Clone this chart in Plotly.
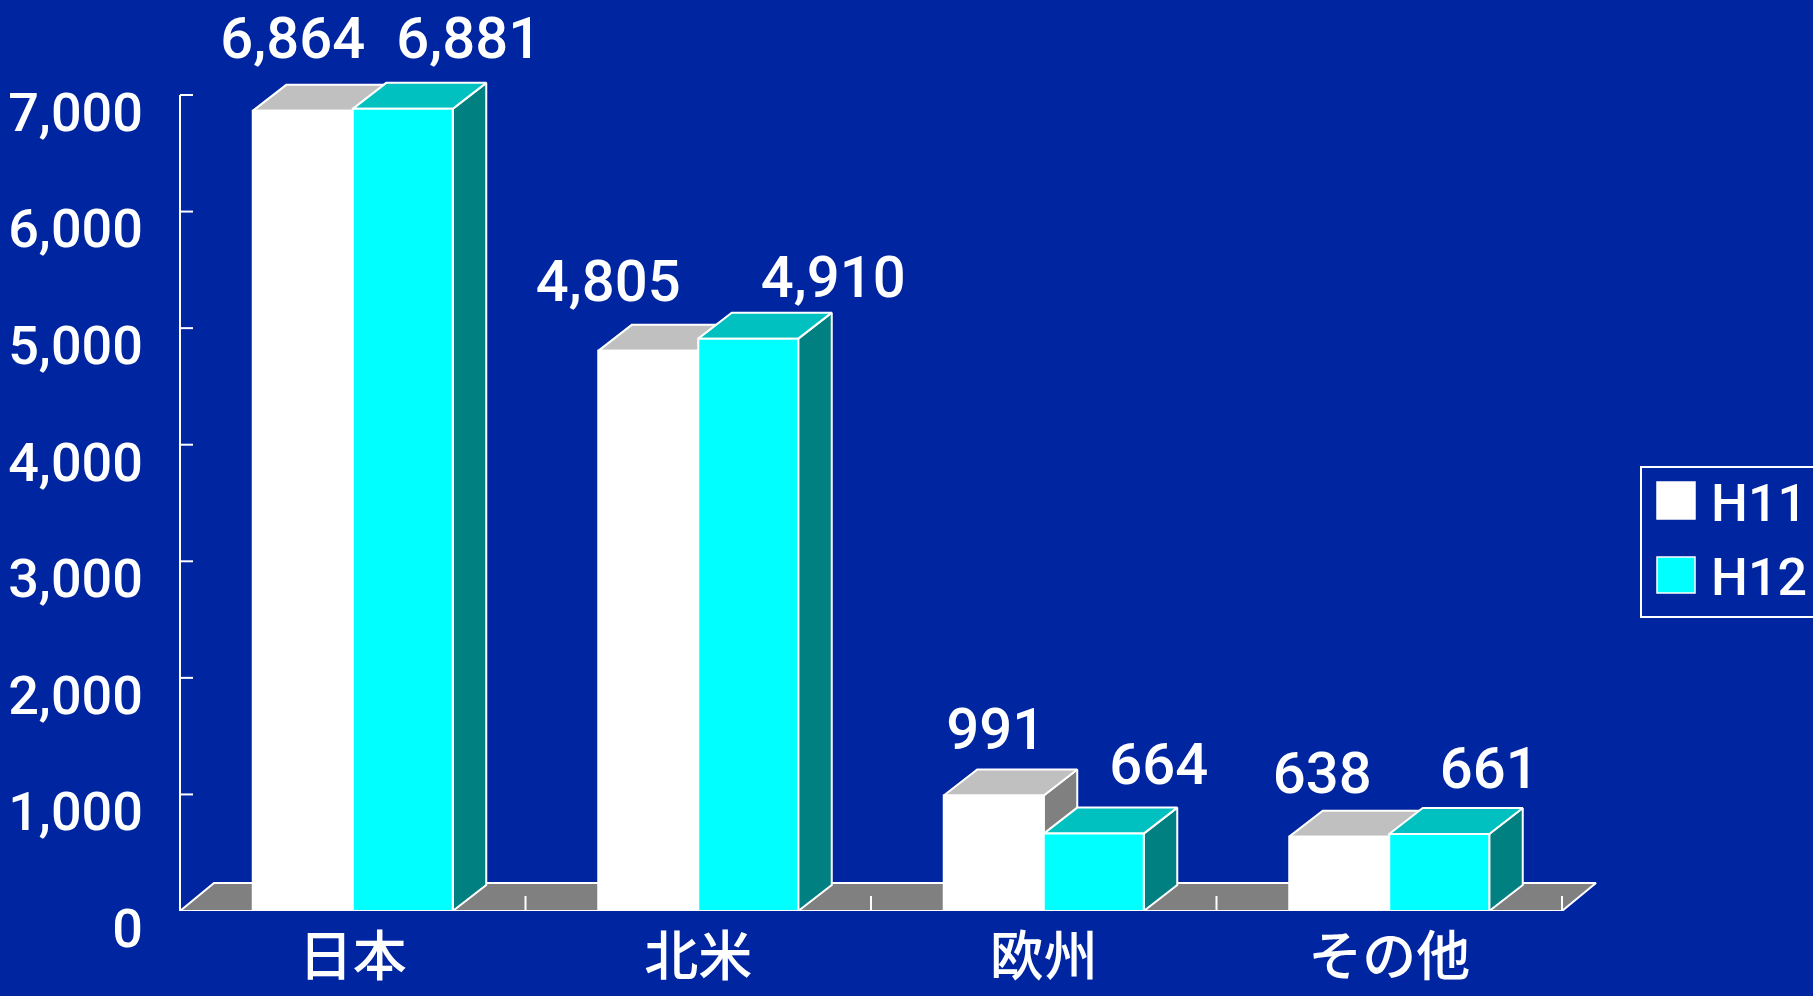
import plotly.graph_objects as go

# ---------------- data ----------------
categories = ["日本", "北米", "欧州", "その他"]
series_names = ["H11", "H12"]
h11_values = [6864, 4805, 991, 638]
h12_values = [6881, 4910, 664, 661]
y_tick_values = [0, 1000, 2000, 3000, 4000, 5000, 6000, 7000]

# ---------------- style / layout ----------------
W, H = 1813, 996
ML, MR, MT, MB = 170, 0, 0, 85
PW, PH = W - ML - MR, H - MT - MB
UX = 345.5            # px per category unit
UY = 816.0 / 7000.0   # px per value unit
AXIS_PX = 180         # pixel x of value axis

BG = "#0025A0"
WHITE = "#FFFFFF"
FACE = {
    "H11": {"front": "#FFFFFF", "top": "#C0C0C0", "side": "#808080"},
    "H12": {"front": "#00FFFF", "top": "#00C0C0", "side": "#008080"},
}
FLOOR = "#808080"
NUM_FONT = "Roboto, Liberation Sans, Arial, sans-serif"
CJK_FONT = "Noto Sans CJK JP, sans-serif"

BAR_W = 100 / UX
DX, DY = 33.5 / UX, 26 / UY          # bar depth
FDX, FDY = 34 / UX, 28 / UY          # floor depth
X_LEFT = -0.5
X_RIGHT = len(categories) - 0.5

# label offsets (px) relative to front-face centre / front-top
lab_dx = {"H11": [-10, -40, 2, -17], "H12": [66, 85, 65, 50]}
lab_dy = {"H11": [67, 64, 61, 58], "H12": [65, 56, 64, 60]}

x0 = X_LEFT - (AXIS_PX - ML) / UX
xrange = [x0, x0 + PW / UX]
yrange = [0, PH / UY]

fig = go.Figure()


def poly(xs, ys, fill, lw=2):
    fig.add_trace(go.Scatter(
        x=xs + [xs[0]], y=ys + [ys[0]], mode="lines", fill="toself",
        fillcolor=fill, line=dict(color=WHITE, width=lw),
        hoverinfo="skip", showlegend=False))


# floor
poly([X_LEFT, X_RIGHT, X_RIGHT + FDX, X_LEFT + FDX], [0, 0, FDY, FDY], FLOOR)

# floor ticks at category boundaries
tx, ty = [], []
for k in range(1, len(categories) + 1):
    b = X_LEFT + k
    tx += [b, b, None]
    ty += [0, 15 / UY, None]
fig.add_trace(go.Scatter(x=tx, y=ty, mode="lines", line=dict(color=WHITE, width=2),
                         hoverinfo="skip", showlegend=False))

# bars (3D faces)
all_vals = {"H11": h11_values, "H12": h12_values}
for i, cat in enumerate(categories):
    for s, name in enumerate(series_names):
        v = all_vals[name][i]
        xl = i - BAR_W + s * BAR_W
        xr = xl + BAR_W
        c = FACE[name]
        poly([xr, xr + DX, xr + DX, xr], [0, DY, v + DY, v], c["side"])
        poly([xl, xr, xr + DX, xl + DX], [v, v, v + DY, v + DY], c["top"])
        poly([xl, xr, xr, xl], [0, 0, v, v], c["front"])

# value axis line and ticks
ax_x, ax_y = [X_LEFT, X_LEFT, None], [0, max(y_tick_values), None]
for t in y_tick_values:
    ax_x += [X_LEFT, X_LEFT + 13 / UX, None]
    ax_y += [t, t, None]
fig.add_trace(go.Scatter(x=ax_x, y=ax_y, mode="lines", line=dict(color=WHITE, width=2),
                         hoverinfo="skip", showlegend=False))

# data labels
for s, name in enumerate(series_names):
    vals = all_vals[name]
    xs, ys, txt = [], [], []
    for i, v in enumerate(vals):
        xc = i - BAR_W / 2 + s * BAR_W
        xs.append(xc + lab_dx[name][i] / UX)
        ys.append(v + lab_dy[name][i] / UY)
        txt.append(f"{v:,}")
    fig.add_trace(go.Scatter(x=xs, y=ys, mode="text", text=txt,
                             textposition="middle center", cliponaxis=False,
                             textfont=dict(family=NUM_FONT, size=58, color=WHITE, weight=500),
                             hoverinfo="skip", showlegend=False))

# ---------------- manual legend ----------------
def px(xp):
    return (xp - ML) / PW


def py(yp):
    return (H - MB - yp) / PH


shapes = [
    dict(type="rect", xref="paper", yref="paper", x0=px(1641), x1=px(1840),
         y0=py(617), y1=py(467), line=dict(color=WHITE, width=2), fillcolor=BG),
]
annotations = []
leg_rows = [(482, 519, 504), (557, 593, 578)]
for (yt, yb, yc), name in zip(leg_rows, series_names):
    shapes.append(dict(type="rect", xref="paper", yref="paper", x0=px(1657), x1=px(1695),
                       y0=py(yb), y1=py(yt), line=dict(color=WHITE, width=1.5),
                       fillcolor=FACE[name]["front"]))
    annotations.append(dict(text=name, xref="paper", yref="paper", x=px(1709), y=py(yc),
                            xanchor="left", yanchor="middle", showarrow=False,
                            font=dict(family=NUM_FONT, size=52, color=WHITE, weight=500)))

fig.update_layout(
    width=W, height=H, autosize=False,
    margin=dict(l=ML, r=MR, t=MT, b=MB, pad=0, autoexpand=False),
    paper_bgcolor=BG, plot_bgcolor=BG,
    showlegend=False,
    shapes=shapes, annotations=annotations,
    xaxis=dict(range=xrange, tickmode="array", tickvals=list(range(len(categories))),
               ticktext=categories, ticks="", showgrid=False, zeroline=False,
               showline=False, fixedrange=True, ticklabelstandoff=10, automargin=False,
               tickfont=dict(family=CJK_FONT, size=54, color=WHITE, weight=500)),
    yaxis=dict(range=yrange, tickmode="array", tickvals=y_tick_values,
               ticktext=[f"{t:,}" for t in y_tick_values], ticks="",
               showgrid=False, zeroline=False, showline=False, fixedrange=True,
               ticklabelstandoff=26, ticklabelshift=17, automargin=False,
               tickfont=dict(family=NUM_FONT, size=54, color=WHITE, weight=500)),
)

fig.write_html(
    "out.html",
    config={"displayModeBar": False},
    post_script="document.body.style.margin='0px';document.body.style.padding='0px';"
                "document.body.style.overflow='hidden';"
                "document.body.style.background='" + BG + "';",
)
